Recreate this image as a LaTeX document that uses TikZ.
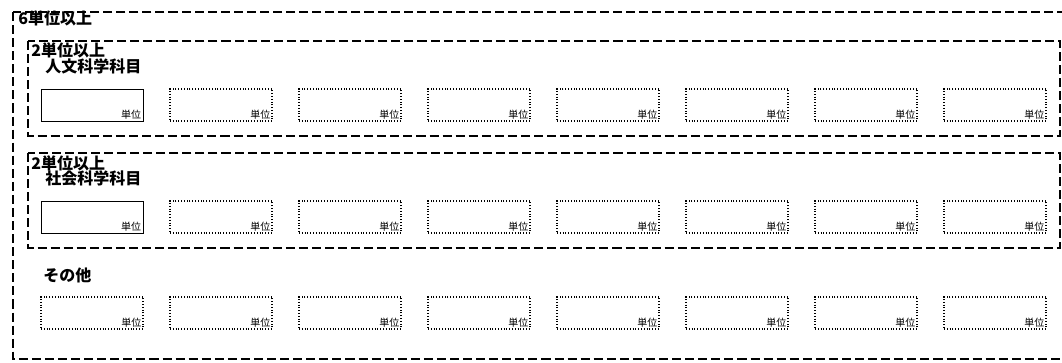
\documentclass[tikz,border=0pt]{standalone}
\usepackage{fontspec}
\newfontfamily\jpfont{Noto Sans CJK JP}
\begin{document}
\begin{tikzpicture}[
    x=0.75pt,
    y=-0.75pt,
    frame/.style={
        draw=black,
        line width=1.4pt,
        dash pattern=on 6.8pt off 3pt
    },
    unitbox/.style={
        draw=black,
        line width=0.8pt,
        dash pattern=on 0.8pt off 1.3pt,
        minimum width=76.5pt,
        minimum height=24pt,
        inner sep=0pt
    },
    firstbox/.style={
        unitbox,
        solid,
        line width=0.6pt
    },
    unit/.style={
        anchor=south east,
        inner sep=1.5pt,
        font=\jpfont\fontsize{7.5}{8}\selectfont
    },
    heading/.style={
        anchor=west,
        inner sep=0pt,
        font=\jpfont\bfseries\fontsize{12}{13}\selectfont
    }
]

    \clip (0,0) rectangle (1062,362);

    % Rahmen
    \draw[frame] (13,12) rectangle (1068,359);
    \draw[frame] (28,41) rectangle (1060,136);
    \draw[frame] (28,153) rectangle (1060,248);

    % Überschriften
    \node[heading] (total) at (18,18.5) {6単位以上};
    \node[heading] (minA) at (31,50) {2単位以上};
    \node[heading] (grpA) at (45,66.5) {人文科学科目};
    \node[heading] (minB) at (31,163) {2単位以上};
    \node[heading] (grpB) at (45,178.5) {社会科学科目};
    \node[heading] (grpC) at (43,275) {その他};

    % Eingabefelder
    \foreach \row/\y/\first in {1/105/firstbox,2/217/firstbox,3/313/unitbox}{
        \node[\first] (b\row-0) at (92,\y) {};
        \node[unit] (u\row-0) at (b\row-0.south east) {単位};
        \foreach \i in {1,...,7}{
            \node[unitbox] (b\row-\i) at (92+129*\i,\y) {};
            \node[unit] (u\row-\i) at (b\row-\i.south east) {単位};
        }
    }

\end{tikzpicture}
\end{document}
